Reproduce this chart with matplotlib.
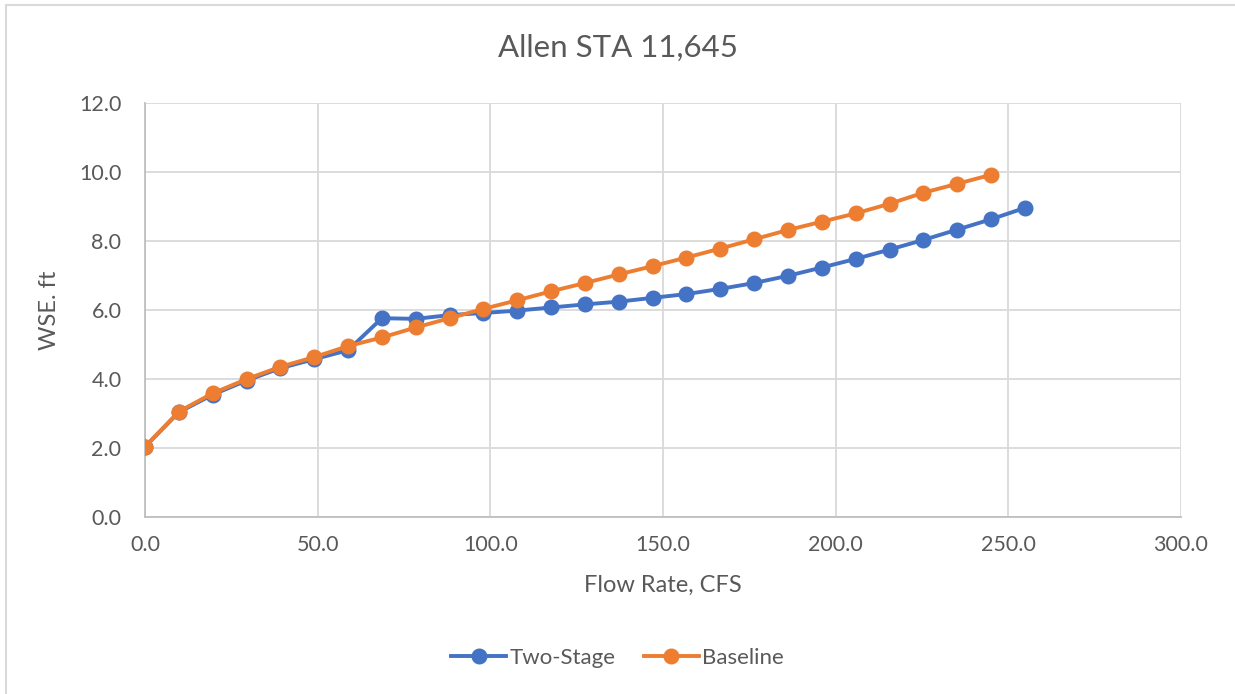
import matplotlib.pyplot as plt
from matplotlib.lines import Line2D

# flow rate (cfs) and water surface elevation (ft) for each run
flow_two_stage = [0.0, 9.8, 19.6, 29.4, 39.2, 49.0, 58.8, 68.6, 78.4, 88.2,
                  98.0, 107.8, 117.6, 127.4, 137.2, 147.0, 156.8, 166.6,
                  176.4, 186.2, 196.0, 205.8, 215.6, 225.4, 235.2, 245.0, 254.8]
wse_two_stage = [2.04, 3.04, 3.55, 3.96, 4.32, 4.58, 4.84, 5.77, 5.75, 5.86,
                 5.92, 5.99, 6.08, 6.17, 6.25, 6.36, 6.47, 6.62,
                 6.79, 7.00, 7.24, 7.49, 7.76, 8.04, 8.34, 8.64, 8.97]

flow_baseline = [0.0, 9.8, 19.6, 29.4, 39.2, 49.0, 58.8, 68.6, 78.4, 88.2,
                 98.0, 107.8, 117.6, 127.4, 137.2, 147.0, 156.8, 166.6,
                 176.4, 186.2, 196.0, 205.8, 215.6, 225.4, 235.2, 245.0]
wse_baseline = [2.04, 3.06, 3.59, 4.00, 4.36, 4.64, 4.96, 5.21, 5.50, 5.77,
                6.04, 6.29, 6.55, 6.79, 7.04, 7.28, 7.53, 7.79,
                8.06, 8.33, 8.57, 8.81, 9.09, 9.41, 9.67, 9.93]

x_ticks = [0, 50, 100, 150, 200, 250, 300]
y_ticks = [0, 2, 4, 6, 8, 10, 12]

BLUE = '#4472C4'
ORANGE = '#ED7D31'
TEXT = '#595959'
GRID = '#D9D9D9'

plt.rcParams['font.family'] = ['Lato', 'DejaVu Sans']

fig = plt.figure(figsize=(12.35, 6.94), dpi=100)
ax = fig.add_axes([0.1174, 0.2550, 0.8389, 0.5959])

ax.plot(flow_two_stage, wse_two_stage, color=BLUE, lw=2.8, marker='o',
        markersize=10.5, label='Two-Stage', zorder=3)
ax.plot(flow_baseline, wse_baseline, color=ORANGE, lw=2.8, marker='o',
        markersize=10.5, label='Baseline', zorder=4)

ax.set_xlim(0, 300)
ax.set_ylim(0, 12)
ax.set_xticks(x_ticks)
ax.set_yticks(y_ticks)
ax.set_xticklabels([f'{v:.1f}' for v in x_ticks])
ax.set_yticklabels([f'{v:.1f}' for v in y_ticks])
ax.tick_params(length=0, labelsize=15.5, colors=TEXT, pad=13)
ax.tick_params(axis='y', pad=17)

ax.grid(True, color=GRID, lw=1.3)
ax.set_axisbelow(True)
for side in ['top', 'right']:
    ax.spines[side].set_visible(False)
for side in ['left', 'bottom']:
    ax.spines[side].set_color('#BFBFBF')
    ax.spines[side].set_linewidth(1.3)

ax.set_xlabel('Flow Rate, CFS', fontsize=17, color=TEXT, labelpad=14)
ax.set_ylabel('WSE. ft', fontsize=17, color=TEXT, labelpad=14)
fig.text(0.5, 0.931, 'Allen STA 11,645', ha='center', va='center',
         fontsize=22.5, color=TEXT)

handles = [Line2D([], [], color=BLUE, lw=2.8, marker='o', markersize=10.5),
           Line2D([], [], color=ORANGE, lw=2.8, marker='o', markersize=10.5)]
fig.legend(handles, ['Two-Stage', 'Baseline'], loc='center',
           bbox_to_anchor=(0.5, 0.052), ncol=2, frameon=False,
           fontsize=16, labelcolor=TEXT, handlelength=2.45,
           handletextpad=0.15, columnspacing=1.3)

# chart frame (left and top edges)
fig.add_artist(Line2D([0.005, 0.005], [0, 0.993], color=GRID, lw=1.5,
                      transform=fig.transFigure))
fig.add_artist(Line2D([0.005, 1.0], [0.993, 0.993], color=GRID, lw=1.5,
                      transform=fig.transFigure))

fig.savefig('out.png', dpi=100, facecolor='white')
